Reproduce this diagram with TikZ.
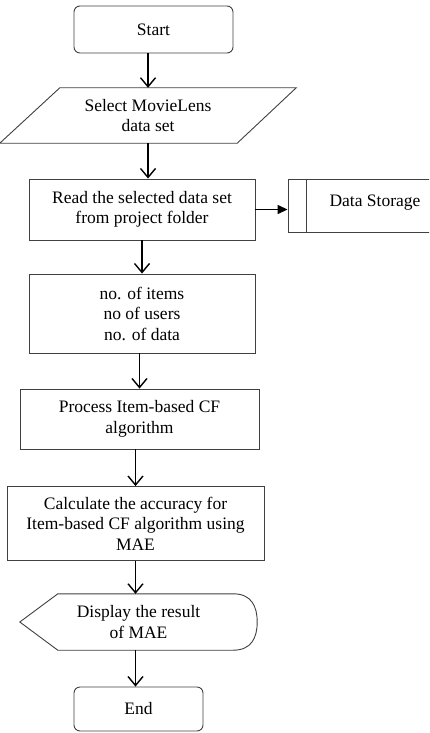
\documentclass[tikz,border=0pt]{standalone}
\usepackage{fontspec}
\setmainfont{Liberation Serif}
\usetikzlibrary{arrows.meta,calc}
\begin{document}
\begin{tikzpicture}[x=1pt,y=-1pt,
  every node/.style={font=\fontsize{17.5}{20.5}\selectfont, align=center, inner sep=0pt},
  outline/.style={draw=black!75, line width=0.9pt},
  box/.style={outline, rectangle},
  arr/.style={draw=black, line width=1.4pt, -{Straight Barb[length=9pt,width=15pt,line width=1.4pt]}},
  farr/.style={draw=black, line width=1.4pt, -{Triangle[length=10pt,width=9pt]}}]
\useasboundingbox (0,0) rectangle (429,733);
\clip (0,0) rectangle (429,733);

% Start
\node[box, rounded corners=6pt, minimum width=159pt, minimum height=47pt] (start) at (153.5,29.5) {Start};

% Select (parallelogram)
\node[minimum width=296pt, minimum height=55pt] (sel) at (148,115.5) {Select MovieLens\\data set};
\draw[outline] (sel.south west) -- ($(sel.south east)+(-59,0)$) -- (sel.north east) -- ($(sel.north west)+(60,0)$) -- cycle;

% Read
\node[box, minimum width=226pt, minimum height=61pt] (read) at (142,209.5) {Read the selected data set\\from project folder};

% Data storage
\node[box, minimum width=157pt, minimum height=53pt] (store) at (366.5,205.5) {};
\draw[outline] ($(store.north west)+(19,0)$) -- ($(store.south west)+(19,0)$);
\node (storet) at (375,203) {Data Storage};

% Items
\node[box, minimum width=226pt, minimum height=79pt] (items) at (142,313.5) {no. of items\\no of users\\no. of data};

% Process
\node[box, minimum width=239pt, minimum height=60pt] (proc) at (139.5,419) {Process Item-based CF\\algorithm};

% Calculate
\node[box, minimum width=257pt, minimum height=74pt] (calc) at (135.5,523.5) {Calculate the accuracy for\\Item-based CF algorithm using\\MAE};

% Display
\node[minimum width=237pt, minimum height=56pt] (disp) at (138.5,622) {Display the result\\of MAE};
\draw[outline] (disp.west) -- ($(disp.north west)+(38,0)$) -- ($(disp.north east)+(-24,0)$)
  .. controls ($(disp.north east)+(-6,0)$) and ($(disp.east)+(0,-16)$) .. (disp.east)
  .. controls ($(disp.east)+(0,16)$) and ($(disp.south east)+(-6,0)$) .. ($(disp.south east)+(-24,0)$)
  -- ($(disp.south west)+(38,0)$) -- cycle;

% End
\node[box, rounded corners=6pt, minimum width=129pt, minimum height=44pt] (end) at (138.5,709) {End};

% Connectors
\draw[arr] (start.south -| sel.north) -- (sel.north);
\draw[arr] (sel.south) -- (sel.south |- read.north);
\draw[farr] (read.east) -- (read.east -| store.west);
\draw[arr] (read.south) -- (items.north);
\draw[arr] (items.south -| proc.north) -- (proc.north);
\draw[arr] (proc.south -| calc.north) -- (calc.north);
\draw[arr] (calc.south) -- (calc.south |- disp.north);
\draw[arr] (calc.south |- disp.south) -- (calc.south |- end.north);
\end{tikzpicture}
\end{document}
